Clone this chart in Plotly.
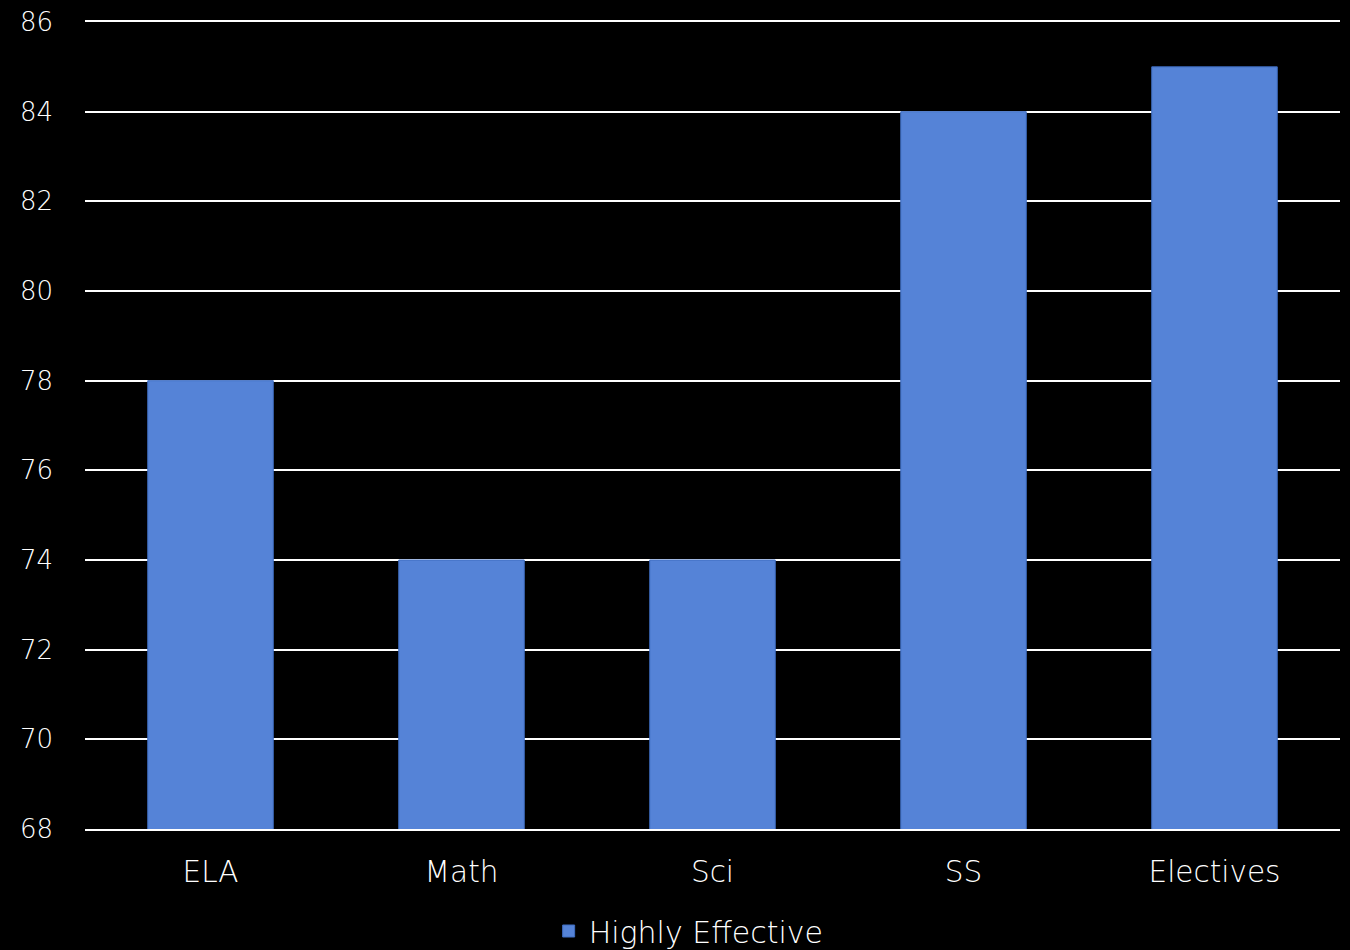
import plotly.graph_objects as go

categories = ["ELA", "Math", "Sci", "SS", "Electives"]
values = [78, 74, 74, 84, 85]
series_name = "Highly Effective"
y_ticks = [68, 70, 72, 74, 76, 78, 80, 82, 84, 86]

FONT = "'DejaVu Sans', sans-serif"

fig = go.Figure()
fig.add_trace(go.Bar(
    x=categories, y=values, name=series_name,
    marker=dict(color="#5583d7", line=dict(color="#3e6cc0", width=1)),
    width=0.5,
))

fig.update_layout(
    width=1350, height=950,
    paper_bgcolor="black", plot_bgcolor="black",
    margin=dict(l=85, r=10, t=22, b=121, autoexpand=False),
    font=dict(family=FONT, color="white", size=24, weight=300),
    showlegend=True,
    legend=dict(orientation="h", x=0.481, xanchor="center", yref="container", y=0.02,
                yanchor="middle", font=dict(family=FONT, size=30, color="white", weight=300)),
    bargap=0.5,
)
fig.update_yaxes(range=[68, 86], tickvals=y_ticks, showgrid=True, gridcolor="white",
                 gridwidth=2, zeroline=False, showline=False, ticks="", automargin=False,
                 tickfont=dict(family=FONT, size=26, weight=300), ticklabelstandoff=31)
fig.update_xaxes(showgrid=False, showline=True, mirror=True, linecolor="white", linewidth=2,
                 ticks="", automargin=False, tickfont=dict(family=FONT, size=29.5, weight=300),
                 ticklabelstandoff=16)

fig.write_html("out.html", config={"displayModeBar": False},
               post_script="document.body.style.margin='0';document.body.style.background='black';")
